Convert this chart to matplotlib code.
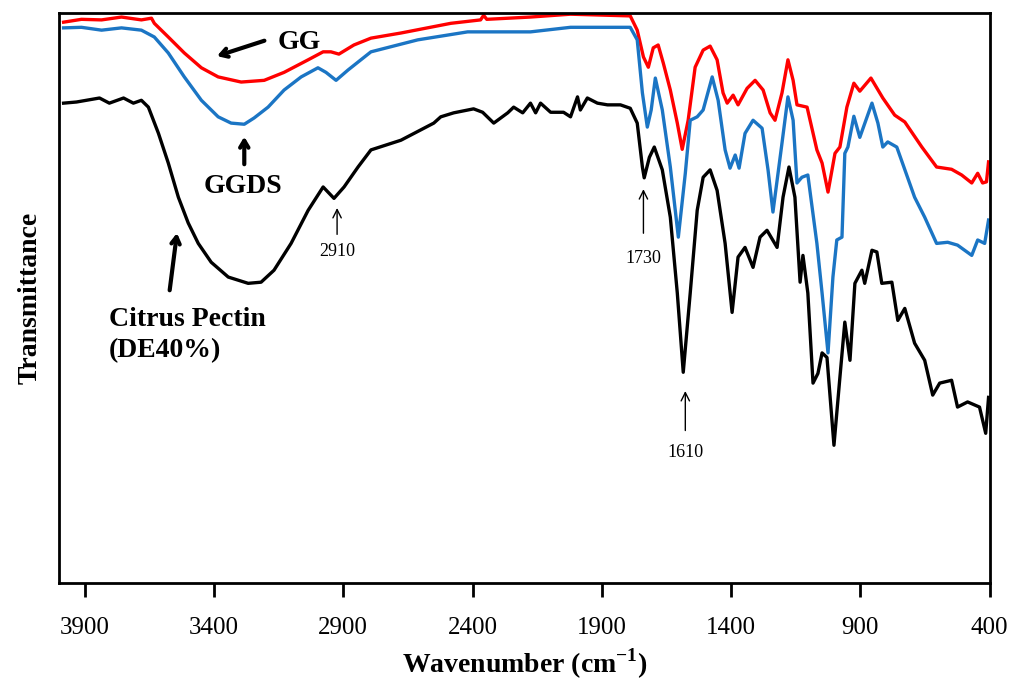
import matplotlib
matplotlib.use("Agg")
import matplotlib.pyplot as plt

# FTIR spectra (wavenumber cm-1, transmittance a.u.)
gg_wn = [3982, 3913, 3835, 3758, 3681, 3642, 3631, 3577, 3515, 3449, 3384, 3295, 3206,
         3129, 3036, 2978, 2948, 2917, 2859, 2793, 2677, 2484, 2369, 2357, 2345, 2176,
         2021, 1790, 1763, 1739, 1720, 1701, 1682, 1662, 1635, 1608, 1589, 1566, 1539,
         1508, 1481, 1454, 1431, 1415, 1392, 1373, 1338, 1307, 1276, 1249, 1230, 1203,
         1180, 1160, 1145, 1106, 1068, 1048, 1025, 998, 979, 952, 925, 902, 859, 813,
         767, 728, 662, 605, 547, 508, 469, 446, 427, 412, 404]
gg_t = [98.4, 98.9, 98.8, 99.3, 98.8, 99.1, 98.2, 95.8, 93.0, 90.4, 88.8, 87.9, 88.2,
        89.6, 91.8, 93.2, 93.2, 92.8, 94.4, 95.6, 96.5, 98.2, 98.8, 99.6, 98.9, 99.3,
        99.8, 99.5, 97.0, 92.3, 90.5, 93.9, 94.4, 91.2, 86.5, 80.7, 76.1, 81.2, 90.5,
        93.5, 94.2, 91.8, 86.0, 84.2, 85.6, 83.9, 86.8, 88.2, 86.5, 82.5, 81.2, 86.0,
        91.8, 88.2, 83.9, 83.5, 76.0, 73.7, 68.6, 75.4, 76.5, 83.5, 87.7, 86.3, 88.6, 85.1,
        82.1, 80.9, 76.5, 73.0, 72.6, 71.6, 70.2, 71.9, 70.2, 70.4, 73.9]

ggds_wn = [3982, 3913, 3835, 3758, 3681, 3631, 3577, 3515, 3449, 3384, 3334, 3283, 3245,
           3191, 3129, 3063, 2998, 2967, 2928, 2882, 2832, 2793, 2612, 2419, 2176, 2021,
           1790, 1763, 1743, 1724, 1709, 1693, 1666, 1635, 1604, 1577, 1558, 1531, 1508,
           1473, 1450, 1423, 1404, 1384, 1369, 1346, 1315, 1280, 1257, 1238, 1203, 1180,
           1160, 1145, 1126, 1103, 1068, 1048, 1025, 1006, 991, 971, 960, 948, 925, 902,
           855, 832, 813, 794, 759, 690, 651, 605, 562, 524, 469, 446, 419, 404]
ggds_t = [97.4, 97.5, 97.0, 97.4, 97.0, 95.8, 93.0, 88.8, 84.7, 81.8, 80.7, 80.5, 81.6,
          83.5, 86.5, 88.8, 90.4, 89.6, 88.2, 90.0, 91.8, 93.2, 95.3, 96.7, 96.7, 97.5,
          97.5, 95.3, 86.0, 80.0, 83.0, 88.6, 83.0, 73.0, 60.7, 71.9, 81.2, 81.8, 83.0,
          88.8, 84.7, 76.0, 72.8, 75.1, 72.8, 78.9, 81.2, 79.8, 72.5, 65.1, 77.2, 85.3,
          81.2, 70.2, 71.2, 71.6, 59.6, 50.9, 40.4, 53.7, 60.2, 60.7, 75.4, 76.5, 81.9, 78.2,
          84.2, 80.7, 76.5, 77.4, 76.5, 67.7, 64.2, 59.6, 59.8, 59.3, 57.5, 60.2, 59.6, 63.7]

pectin_wn = [3982, 3932, 3843, 3805, 3750, 3712, 3681, 3654, 3615, 3577, 3538, 3500, 3461,
             3411, 3345, 3268, 3218, 3168, 3102, 3036, 2978, 2936, 2897, 2843, 2793, 2677,
             2550, 2523, 2473, 2396, 2361, 2318, 2264, 2241, 2206, 2176, 2156, 2137, 2098,
             2048, 2021, 1994, 1983, 1956, 1917, 1878, 1828, 1790, 1763, 1743, 1736, 1716,
             1697, 1666, 1635, 1608, 1585, 1558, 1531, 1508, 1481, 1454, 1423, 1396, 1373,
             1346, 1315, 1288, 1261, 1222, 1199, 1176, 1153, 1133, 1122, 1103, 1083, 1064,
             1048, 1029, 1002, 979, 960, 940, 921, 894, 883, 855, 836, 817, 778, 755, 728,
             690, 651, 620, 593, 547, 524, 485, 439, 415, 404]
pectin_t = [84.2, 84.4, 85.1, 84.2, 85.1, 84.2, 84.7, 83.5, 78.9, 73.7, 67.7, 63.2, 59.6,
            56.3, 53.7, 52.6, 52.8, 54.9, 59.6, 65.4, 69.5, 67.5, 69.5, 73.0, 76.0, 77.7,
            80.7, 81.8, 82.5, 83.2, 82.6, 80.7, 82.5, 83.5, 82.5, 84.2, 82.5, 84.2, 82.6,
            82.6, 81.8, 85.3, 83.0, 85.1, 84.2, 83.9, 83.9, 83.3, 80.7, 73.0, 71.1, 74.7,
            76.5, 72.5, 64.2, 50.9, 37.0, 50.9, 65.4, 71.2, 72.5, 68.9, 59.6, 47.5, 57.2,
            58.9, 55.4, 60.7, 61.9, 58.9, 67.7, 73.0, 67.7, 52.8, 57.5, 50.9, 35.1, 36.8,
            40.4, 39.6, 24.2, 36.1, 45.8, 39.1, 52.6, 54.9, 52.6, 58.4, 58.1, 52.6, 52.8, 46.1,
            48.2, 42.1, 39.1, 33.0, 35.1, 35.6, 30.9, 31.8, 30.9, 26.3, 32.6]

xticks = [3900, 3400, 2900, 2400, 1900, 1400, 900, 400]

plt.rcParams['font.family'] = ['Liberation Serif', 'DejaVu Serif']

fig = plt.figure(figsize=(10.16, 6.87), dpi=100)
ax = fig.add_axes([0.058, 0.151, 0.916, 0.830])

ax.plot(gg_wn, gg_t, color='#ff0000', lw=2.4, solid_joinstyle='round')
ax.plot(ggds_wn, ggds_t, color='#1b75c4', lw=2.4, solid_joinstyle='round')
ax.plot(pectin_wn, pectin_t, color='black', lw=2.4, solid_joinstyle='round')

ax.set_xlim(4000, 400)
ax.set_ylim(0, 100)
ax.set_xticks(xticks)
ax.set_xticklabels([str(t) for t in xticks], fontsize=18)
ax.set_yticks([])
ax.tick_params(axis='x', direction='out', length=10, width=2, pad=14)
for s in ax.spines.values():
    s.set_linewidth(2)

ax.set_xlabel('Wavenumber (cm$^{\\mathregular{-1}}$)', fontsize=20, fontweight='bold', labelpad=6)
ax.set_ylabel('Transmittance', fontsize=20, fontweight='bold', labelpad=12)

# sample labels with thick arrows
big = dict(arrowstyle='->,head_length=0.5,head_width=0.3', lw=3, color='black')
ax.annotate('', xy=(3399, 92.3), xytext=(3195, 95.3), arrowprops=big)
ax.text(3071, 94.9, 'GG', fontsize=20, fontweight='bold', ha='center', va='center')
ax.annotate('', xy=(3283, 78.8), xytext=(3283, 73.0), arrowprops=big)
ax.text(3287, 69.5, 'GGDS', fontsize=20, fontweight='bold', ha='center', va='center')
ax.annotate('', xy=(3542, 61.9), xytext=(3573, 50.9), arrowprops=big)
ax.text(3808, 43.5, 'Citrus Pectin\n(DE40%)', fontsize=20, fontweight='bold',
        ha='left', va='center', linespacing=1.3)

# peak markers
thin = dict(arrowstyle='->,head_length=0.6,head_width=0.3', lw=1, color='black')
for wn, y0, y1, ly, lab in [(2924, 60.7, 66.3, 58.1, '2910'),
                             (1739, 60.9, 69.6, 57.0, '1730'),
                             (1577, 26.3, 34.2, 23.0, '1610')]:
    ax.annotate('', xy=(wn, y1), xytext=(wn, y0), arrowprops=thin)
    ax.text(wn, ly, lab, fontsize=13, ha='center', va='center')

fig.savefig('out.png', dpi=100)
